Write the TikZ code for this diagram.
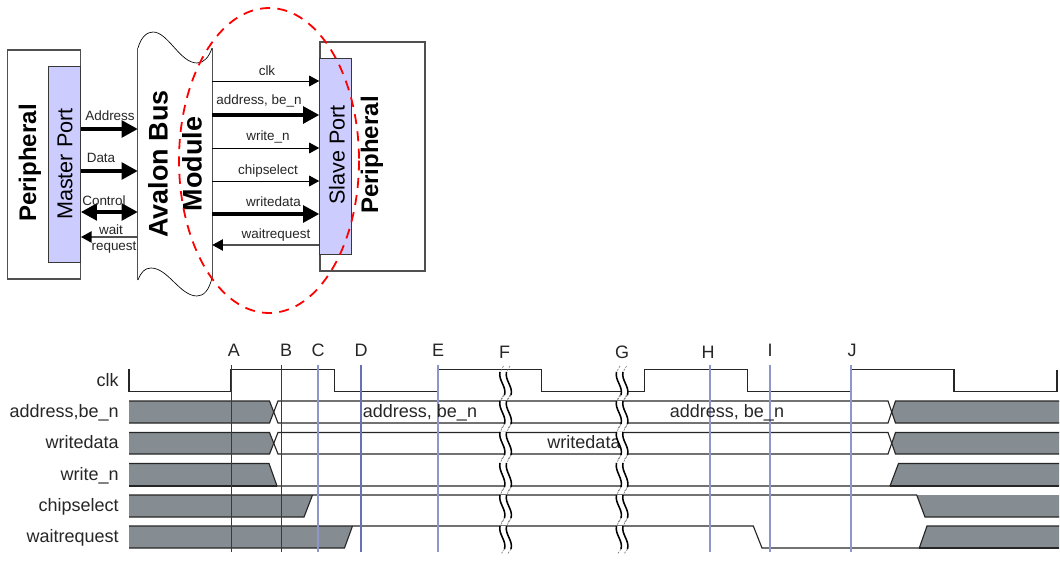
\documentclass[tikz,border=0pt]{standalone}
\usepackage{fontspec}
\setmainfont{Liberation Sans}
\usetikzlibrary{arrows.meta}
\definecolor{portfill}{HTML}{CCCCFF}
\definecolor{wavegray}{HTML}{868D92}
\definecolor{ink}{HTML}{262626}
\definecolor{edge}{HTML}{505050}
\definecolor{navy}{HTML}{30308C}
\definecolor{midblue}{HTML}{6A70B4}
\definecolor{paleblue}{HTML}{8F96CC}
\tikzset{
  box/.style={draw=edge,line width=0.8pt,inner sep=0pt},
  port/.style={box,fill=portfill,draw=edge!70!black,line width=0.7pt},
  big/.style={rotate=90,inner sep=0pt,text=black,font=\fontsize{18}{20}\selectfont\bfseries},
  bigger/.style={rotate=90,inner sep=0pt,text=black,font=\fontsize{20.2}{22}\selectfont\bfseries},
  portlabel/.style={rotate=90,inner sep=0pt,text=black,font=\fontsize{16.2}{18}\selectfont},
  small/.style={anchor=base,inner sep=0pt,text=ink,font=\fontsize{10.1}{12}\selectfont},
  siglabel/.style={anchor=base east,inner sep=0pt,text=ink,font=\fontsize{13.5}{15}\selectfont},
  timelabel/.style={anchor=base,inner sep=0pt,text=ink,font=\fontsize{13.5}{15}\selectfont},
  thickarrow/.style={line width=2.4pt,-{Triangle[length=12pt,width=12.5pt]},black},
  thinarrow/.style={line width=0.75pt,-{Triangle[length=7.5pt,width=8pt]},black},
  backarrow/.style={line width=1.1pt,edge,arrows={-{Triangle[length=8pt,width=8.5pt,color=black]}}},
  doublearrow/.style={line width=2.4pt,{Triangle[length=12pt,width=12.5pt]}-{Triangle[length=12pt,width=12.5pt]},black},
  sig/.style={line width=0.85pt,draw=ink,line join=miter},
  wavefill/.style={fill=wavegray,draw=none},
  redring/.style={draw=red,line width=1.35pt,dash pattern=on 7.5pt off 5.5pt}
}
\begin{document}
\begin{tikzpicture}[x=0.75pt,y=-0.75pt]
\useasboundingbox (0,0) rectangle (1060,565);

% --- block diagram boxes
\node[box,minimum width=54.75pt,minimum height=171.75pt] (perL) at (44,164.5) {};
\node[port,minimum width=24pt,minimum height=147pt] (master) at (64.5,164) {};
\node[box,minimum width=78.75pt,minimum height=171.75pt] (perR) at (372.5,156.5) {};
\node[port,minimum width=24pt,minimum height=147pt] (slave) at (335.7,156) {};
\node[inner sep=0pt,minimum width=55.5pt,minimum height=174pt] (bus) at (175,164) {};
\draw[black,line width=0.5pt] (138,48) .. controls (141,37) and (147,32) .. (153,32)
   .. controls (168,32) and (180,63) .. (197,63) .. controls (204,63) and (209,57) .. (212,48);
\draw[black,line width=0.5pt] (138,280) .. controls (141,272) and (145,268) .. (151,268)
   .. controls (168,268) and (180,296) .. (197,296) .. controls (204,296) and (209,290) .. (212,278);
\draw[edge,line width=0.9pt] (bus.west |- 0,48) -- (bus.west |- 0,280);
\draw[edge,line width=0.9pt] (bus.east |- 0,48) -- (bus.east |- 0,278);

\node[big] (tperL) at (30,163) {Peripheral};
\node[portlabel] (tmaster) at (65,164) {Master Port};
\node[bigger] (tavalon) at (158,164) {Avalon Bus};
\node[bigger] (tmodule) at (192,164) {Module};
\node[portlabel] (tslave) at (337,155) {Slave Port};
\node[big] (tperR) at (372,155) {Peripheral};

% --- connectors left
\draw[thickarrow] (master.east |- 0,129) -- (bus.west |- 0,129);
\draw[thickarrow] (master.east |- 0,171) -- (bus.west |- 0,171);
\draw[doublearrow] (master.east |- 0,212) -- (bus.west |- 0,212);
\draw[backarrow] (bus.west |- 0,237) -- (master.east |- 0,237);
\node[small] (lA) at (110,120.5) {Address};
\node[small] (lB) at (101,162) {Data};
\node[small] (lC) at (104,205.5) {Control};
\node[small] (lD) at (111,234) {wait};
\node[small] (lE) at (114,250.5) {request};

% --- connectors right
\draw[thinarrow] (bus.east |- 0,81) -- (slave.west |- 0,81);
\draw[thickarrow] (bus.east |- 0,115) -- (slave.west |- 0,115);
\draw[thinarrow] (bus.east |- 0,148) -- (slave.west |- 0,148);
\draw[thinarrow] (bus.east |- 0,181) -- (slave.west |- 0,181);
\draw[thickarrow] (bus.east |- 0,214) -- (slave.west |- 0,214);
\draw[backarrow] (slave.west |- 0,245) -- (bus.east |- 0,245);
\node[small] (rA) at (267,75) {clk};
\node[small] (rB) at (259,104) {address, be\_n};
\node[small] (rC) at (268,140.5) {write\_n};
\node[small] (rD) at (268,174) {chipselect};
\node[small] (rE) at (273.5,206.5) {writedata};
\node[small] (rF) at (276,238.5) {waitrequest};

\coordinate (ringc) at (269,160.5);
\draw[redring] (ringc) ellipse [x radius=90, y radius=152.5];

% --- timing: signal names
\node[siglabel] (sclk) at (119,386) {clk};
\node[siglabel] (saddr) at (119,417) {address,be\_n};
\node[siglabel] (sdata) at (119,448) {writedata};
\node[siglabel] (swr) at (119,480) {write\_n};
\node[siglabel] (scs) at (119,511) {chipselect};
\node[siglabel] (swait) at (119,542) {waitrequest};

% --- timing: shaded regions
\fill[wavefill] (129,401) -- (269.5,401) -- (273.5,412) -- (269.5,423) -- (129,423) -- cycle;
\fill[wavefill] (1059,401) -- (895.5,401) -- (892,412) -- (895.5,423) -- (1059,423) -- cycle;
\fill[wavefill] (129,432.5) -- (269.5,432.5) -- (273.5,443.5) -- (269.5,454) -- (129,454) -- cycle;
\fill[wavefill] (1059,432.5) -- (895.5,432.5) -- (892,443.5) -- (895.5,454) -- (1059,454) -- cycle;
\fill[wavefill] (129,463.5) -- (269,463.5) -- (277,486) -- (129,486) -- cycle;
\fill[wavefill] (1059,463.5) -- (898.5,463.5) -- (890,486) -- (1059,486) -- cycle;
\fill[wavefill] (129,495) -- (312.5,495) -- (304,517) -- (129,517) -- cycle;
\fill[wavefill] (1059,495) -- (916.7,495) -- (925,517) -- (1059,517) -- cycle;
\fill[wavefill] (129,526) -- (352.5,526) -- (344.5,548) -- (129,548) -- cycle;
\fill[wavefill] (1059,526) -- (927,526) -- (919.3,548) -- (1059,548) -- cycle;

% --- timing: traces
\draw[sig] (129,369) |- (231,391.5) |- (334.5,369.5) |- (438,391.5) |- (541.5,369.5) |- (644.3,391.5) |- (747.7,369.5) |- (851,391.5) |- (954,369.5) |- (1057,391.5) -- (1057,369.5);
\draw[sig] (129,401) -- (269.5,401) -- (278,423) -- (888,423) -- (895.5,401) -- (1059,401);
\draw[sig] (129,423) -- (269.5,423) -- (278,401) -- (888,401) -- (895.5,423) -- (1059,423);
\draw[sig] (129,432.5) -- (269.5,432.5) -- (278,454) -- (888,454) -- (895.5,432.5) -- (1059,432.5);
\draw[sig] (129,454) -- (269.5,454) -- (278,432.5) -- (888,432.5) -- (895.5,454) -- (1059,454);
\draw[sig] (129,463.5) -- (269,463.5) -- (277,486) -- (890,486) -- (898.5,463.5) -- (1059,463.5);
\draw[sig] (129,486) -- (277,486) (890,486) -- (1059,486);
\draw[sig] (129,495) -- (916.7,495) -- (925,517) -- (1059,517);
\draw[sig] (129,517) -- (304,517) -- (312.5,495);
\draw[sig] (129,526) -- (753.3,526) -- (762,548) -- (919.3,548) -- (927,526) -- (1059,526);
\draw[sig] (129,548) -- (344.5,548) -- (352.5,526);
\draw[sig] (919.3,548) -- (1059,548);

% --- timing: cursors
\foreach \cx/\cc/\lw in {231.4/navy/0.85pt,281.6/navy/0.85pt,318/paleblue/1pt,361/midblue/0.8pt,438/paleblue/1pt,710/paleblue/1pt,770/paleblue/1pt,851/paleblue/1pt}
  \draw[\cc,line width=\lw] (\cx,365) -- (\cx,552);

% --- timing: text inside bars
\node[timelabel] (v1) at (420,417) {address, be\_n};
\node[timelabel] (v2) at (727,417) {address, be\_n};
\node[timelabel] (v3) at (584,448) {writedata};

% --- timing: break marks
\foreach \a in {500,616.5}{
  \foreach \ya/\yb in {372/395,401/424,432/455,463/487,495/518,526/549}{
    \fill[white] (\a,\ya) .. controls (\a-2,\ya+8) and (\a+7,\yb-8) .. (\a+4.5,\yb)
       -- (\a+11,\yb) .. controls (\a+13,\yb-8) and (\a+4,\ya+8) .. (\a+6.5,\ya) -- cycle;
    \foreach \dx in {0,6.5}{
      \draw[black,line width=1.15pt] (\a+\dx,\ya) .. controls (\a+\dx-2,\ya+8) and (\a+\dx+7,\yb-8) .. (\a+\dx+4.5,\yb);
      \draw[black!55,line width=0.45pt,dash pattern=on 1.5pt off 1pt] (\a+\dx+4.5,\yb) -- (\a+\dx+1,\yb+5);
      \draw[black!55,line width=0.45pt,dash pattern=on 1.5pt off 1pt] (\a+\dx+3.5,\ya-6) -- (\a+\dx,\ya);
    }
  }
}

% --- timing: cursor letters
\foreach \n/\tx/\ty/\tn in {A/234/356/ca,B/286/356/cb,C/318/356/cc,D/361/356/cd,E/438/356/ce,F/504.5/358/cf,G/622/358/cg,H/708/358/ch,I/770/356/ci,J/852/356/cj}
  \node[timelabel] (\tn) at (\tx,\ty) {\n};
\end{tikzpicture}
\end{document}
